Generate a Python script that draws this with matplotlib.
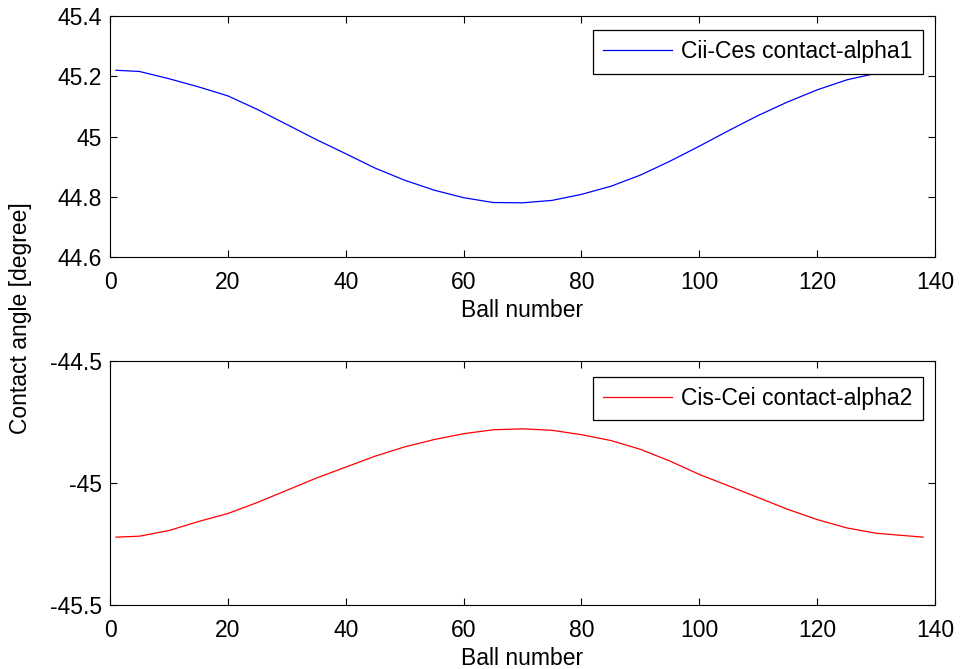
import matplotlib
matplotlib.use("Agg")
import matplotlib.pyplot as plt

plt.rcParams['font.family'] = ['Liberation Sans', 'DejaVu Sans']

balls = [1, 5, 10, 15, 20, 25, 30, 35, 40, 45, 50, 55, 60, 65, 70,
         75, 80, 85, 90, 95, 100, 105, 110, 115, 120, 125, 130, 135, 138]

# Cii-Ces contact angle (alpha1), degree
alpha1 = [45.220, 45.216, 45.192, 45.165, 45.135, 45.090, 45.040, 44.990,
          44.943, 44.895, 44.855, 44.822, 44.797, 44.781, 44.780, 44.788,
          44.808, 44.835, 44.872, 44.918, 44.968, 45.020, 45.070, 45.115,
          45.155, 45.188, 45.210, 45.220, 45.222]

# Cis-Cei contact angle (alpha2), degree
alpha2 = [-45.222, -45.218, -45.195, -45.158, -45.125, -45.080, -45.030, -44.980,
          -44.935, -44.890, -44.852, -44.822, -44.798, -44.782, -44.778, -44.784,
          -44.802, -44.826, -44.862, -44.910, -44.965, -45.012, -45.060, -45.108,
          -45.150, -45.184, -45.206, -45.216, -45.222]

xticks = [0, 20, 40, 60, 80, 100, 120, 140]
yticks_top = [44.6, 44.8, 45.0, 45.2, 45.4]
yticks_bot = [-45.5, -45.0, -44.5]

fs = 16.5

fig = plt.figure(figsize=(9.6, 6.69), dpi=100)
ax1 = fig.add_axes([0.1146, 0.6158, 0.8594, 0.3602])
ax2 = fig.add_axes([0.1146, 0.0957, 0.8594, 0.3647])


def style_axes(ax):
    ax.tick_params(direction='in', top=True, right=True, length=5, width=0.8,
                   labelsize=fs, color='black')
    ax.tick_params(axis='x', pad=10)
    ax.tick_params(axis='y', pad=6)
    for s in ax.spines.values():
        s.set_linewidth(0.8)
    ax.set_xlim(0, 140)
    ax.set_xticks(xticks)
    ax.set_xticklabels([str(t) for t in xticks])
    ax.set_xlabel('Ball number', fontsize=fs, labelpad=4)


def add_legend(ax, anchor_y):
    leg = ax.legend(loc='upper right', bbox_to_anchor=(0.985, anchor_y), borderaxespad=0,
                    fontsize=fs, fancybox=False, edgecolor='black', framealpha=1,
                    handlelength=3.0, handletextpad=0.4, borderpad=0.45)
    leg.get_frame().set_linewidth(0.9)


ax1.plot(balls, alpha1, color='#0000ff', lw=0.9, label='Cii-Ces contact-alpha1')
style_axes(ax1)
ax1.set_ylim(44.6, 45.4)
ax1.set_yticks(yticks_top)
ax1.set_yticklabels(['44.6', '44.8', '45', '45.2', '45.4'])
add_legend(ax1, 0.942)

ax2.plot(balls, alpha2, color='#ff0000', lw=0.9, label='Cis-Cei contact-alpha2')
style_axes(ax2)
ax2.set_ylim(-45.5, -44.5)
ax2.set_yticks(yticks_bot)
ax2.set_yticklabels(['-45.5', '-45', '-44.5'])
add_legend(ax2, 0.935)

fig.text(0.021, 0.525, 'Contact angle [degree]', rotation=90, fontsize=fs,
         ha='center', va='center')

fig.savefig('out.png', dpi=100)
